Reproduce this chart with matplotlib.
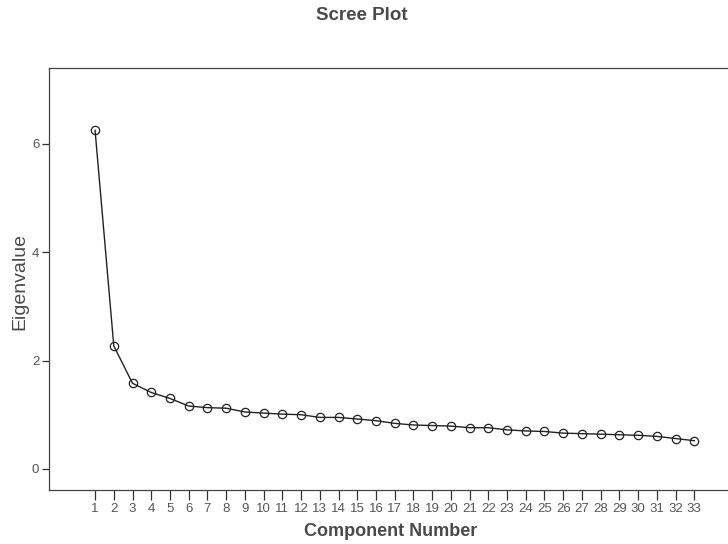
import matplotlib
matplotlib.use("Agg")
import matplotlib.pyplot as plt
import numpy as np

# eigenvalues
components = list(range(1, 34))
eigenvalues = [6.25, 2.27, 1.58, 1.41, 1.30, 1.16, 1.13, 1.12, 1.05, 1.03,
               1.01, 1.00, 0.95, 0.95, 0.92, 0.89, 0.84, 0.81, 0.80, 0.79,
               0.76, 0.76, 0.72, 0.70, 0.69, 0.66, 0.65, 0.64, 0.63, 0.62,
               0.60, 0.56, 0.52]
y_ticks = [0, 2, 4, 6]

plt.rcParams['font.family'] = ['Liberation Sans', 'DejaVu Sans']
grey = '#4a4a4a'

fig = plt.figure(figsize=(7.28, 5.44), dpi=100)
ax = fig.add_axes([49/728, 1 - 490/544, 1 - 49/728, (490 - 68)/544])

ax.plot(components, eigenvalues, color='#222222', linewidth=1.0,
        marker='o', markersize=6, markerfacecolor='none',
        markeredgecolor='#222222', markeredgewidth=0.9)

ax.set_xlim(-1.46, 34.8)
ax.set_ylim(-0.39, 7.4)
ax.set_xticks(components)
ax.set_xticklabels([str(c) for c in components])
ax.set_yticks(y_ticks)
ax.tick_params(axis='x', direction='out', length=7, width=0.9, colors='#333333',
               labelcolor='#555555', labelsize=9.5, pad=2)
ax.tick_params(axis='y', direction='out', length=5, width=0.9, colors='#333333',
               labelcolor='#555555', labelsize=9.5, pad=2)
ax.spines['right'].set_visible(False)
for s in ['left', 'top', 'bottom']:
    ax.spines[s].set_color('#444444')
    ax.spines[s].set_linewidth(0.9)

fig.text(362/728, 1 - 15/544, 'Scree Plot', ha='center', va='center',
         fontsize=13.5, fontweight='bold', color=grey)
fig.text(20/728, 1 - 281/544, 'Eigenvalue', ha='center', va='center',
         rotation=90, fontsize=14, color=grey)
fig.text(391/728, 1 - 532/544, 'Component Number', ha='center', va='center',
         fontsize=13, fontweight='bold', color=grey)

fig.savefig('out.png', dpi=100)
